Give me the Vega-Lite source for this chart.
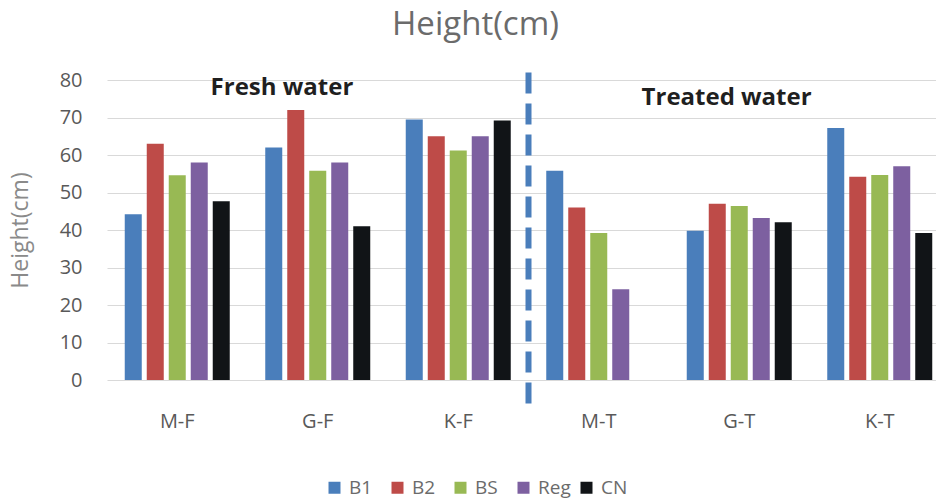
{
  "$schema": "https://vega.github.io/schema/vega-lite/v6.json",
  "width": 829,
  "height": 300,
  "autosize": {"type": "none"},
  "padding": {"left": 107, "top": 80, "right": 0, "bottom": 121},
  "background": "white",
  "config": {
    "font": "Open Sans",
    "view": {"stroke": null},
    "axis": {"labelFont": "Open Sans", "titleFont": "Open Sans"},
    "legend": {"labelFont": "Open Sans"}
  },
  "title": {
    "text": "Height(cm)",
    "fontSize": 33,
    "fontWeight": "normal",
    "color": "#6b6b6b",
    "anchor": "middle",
    "dx": -46,
    "offset": 28
  },
  "layer": [
    {
      "data": {
        "values": [
          {"group": "M-F", "series": "B1", "value": 44.2},
          {"group": "M-F", "series": "B2", "value": 63},
          {"group": "M-F", "series": "BS", "value": 54.6},
          {"group": "M-F", "series": "Reg", "value": 58},
          {"group": "M-F", "series": "CN", "value": 47.7},
          {"group": "G-F", "series": "B1", "value": 62},
          {"group": "G-F", "series": "B2", "value": 72},
          {"group": "G-F", "series": "BS", "value": 55.8},
          {"group": "G-F", "series": "Reg", "value": 58},
          {"group": "G-F", "series": "CN", "value": 41},
          {"group": "K-F", "series": "B1", "value": 69.5},
          {"group": "K-F", "series": "B2", "value": 65},
          {"group": "K-F", "series": "BS", "value": 61.2},
          {"group": "K-F", "series": "Reg", "value": 65},
          {"group": "K-F", "series": "CN", "value": 69.2},
          {"group": "M-T", "series": "B1", "value": 55.8},
          {"group": "M-T", "series": "B2", "value": 46},
          {"group": "M-T", "series": "BS", "value": 39.2},
          {"group": "M-T", "series": "Reg", "value": 24.2},
          {"group": "G-T", "series": "B1", "value": 39.8},
          {"group": "G-T", "series": "B2", "value": 47},
          {"group": "G-T", "series": "BS", "value": 46.4},
          {"group": "G-T", "series": "Reg", "value": 43.2},
          {"group": "G-T", "series": "CN", "value": 42.1},
          {"group": "K-T", "series": "B1", "value": 67.2},
          {"group": "K-T", "series": "B2", "value": 54.2},
          {"group": "K-T", "series": "BS", "value": 54.7},
          {"group": "K-T", "series": "Reg", "value": 57},
          {"group": "K-T", "series": "CN", "value": 39.2}
        ]
      },
      "mark": {"type": "bar"},
      "encoding": {
        "x": {
          "field": "group",
          "type": "nominal",
          "scale": {"domain": ["M-F", "G-F", "K-F", "M-T", "G-T", "K-T"], "paddingInner": 0, "paddingOuter": 0, "range": [0, 843]},
          "axis": {
            "title": null,
            "labelAngle": 0,
            "labelFontSize": 20,
            "labelColor": "#595959",
            "labelPadding": 31,
            "ticks": false,
            "domain": false,
            "grid": false
          }
        },
        "xOffset": {
          "field": "series",
          "type": "nominal",
          "scale": {"domain": ["B1", "B2", "BS", "Reg", "CN"], "paddingInner": 0.227, "paddingOuter": 0.807}
        },
        "y": {
          "field": "value",
          "type": "quantitative",
          "scale": {"domain": [0, 80], "nice": false},
          "axis": {
            "title": "Height(cm)",
            "titleFontSize": 23,
            "titleFontWeight": "normal",
            "titleColor": "#8a8a8a",
            "titlePadding": 27,
            "values": [0, 10, 20, 30, 40, 50, 60, 70, 80],
            "labelOverlap": false,
            "labelFontSize": 20,
            "labelColor": "#595959",
            "labelPadding": 25,
            "ticks": false,
            "domain": false,
            "gridColor": "#d9d9d9",
            "gridWidth": 1
          }
        },
        "color": {
          "field": "series",
          "type": "nominal",
          "scale": {
            "domain": ["B1", "B2", "BS", "Reg", "CN"],
            "range": ["#4a7ebb", "#be4b48", "#98b954", "#7d60a0", "#111417"]
          },
          "legend": {
            "title": null,
            "orient": "none",
            "legendX": 218,
            "legendY": 398,
            "padding": 0,
            "direction": "horizontal",
            "columns": 5,
            "gridAlign": "all",
            "symbolType": "square",
            "symbolSize": 144,
            "symbolStrokeWidth": 0,
            "labelFontSize": 19,
            "labelColor": "#6b6b6b",
            "columnPadding": 6,
            "labelOffset": 5
          }
        }
      }
    },
    {
      "data": {"values": [{"group": "M-T", "top": 82, "bottom": -8.5}]},
      "mark": {"type": "rule", "color": "#4a7ebb", "strokeWidth": 6, "strokeDash": [21, 10]},
      "encoding": {
        "x": {"field": "group", "type": "nominal", "bandPosition": 0},
        "y": {
          "field": "top",
          "type": "quantitative",
          "axis": {
            "title": "Height(cm)",
            "titleFontSize": 23,
            "titleFontWeight": "normal",
            "titleColor": "#8a8a8a",
            "titlePadding": 27,
            "values": [0, 10, 20, 30, 40, 50, 60, 70, 80],
            "labelOverlap": false,
            "labelFontSize": 20,
            "labelColor": "#595959",
            "labelPadding": 25,
            "ticks": false,
            "domain": false,
            "gridColor": "#d9d9d9",
            "gridWidth": 1
          }
        },
        "y2": {"field": "bottom"}
      }
    },
    {
      "data": {"values": [{"group": "G-F", "label": "Fresh water", "value": 78}]},
      "mark": {"type": "text", "fontSize": 24, "fontWeight": "bold", "color": "#1f1f1f", "align": "center", "baseline": "middle"},
      "encoding": {
        "x": {"field": "group", "type": "nominal", "bandPosition": 0.245},
        "y": {
          "field": "value",
          "type": "quantitative",
          "axis": {
            "title": "Height(cm)",
            "titleFontSize": 23,
            "titleFontWeight": "normal",
            "titleColor": "#8a8a8a",
            "titlePadding": 27,
            "values": [0, 10, 20, 30, 40, 50, 60, 70, 80],
            "labelOverlap": false,
            "labelFontSize": 20,
            "labelColor": "#595959",
            "labelPadding": 25,
            "ticks": false,
            "domain": false,
            "gridColor": "#d9d9d9",
            "gridWidth": 1
          }
        },
        "text": {"field": "label"}
      }
    },
    {
      "data": {"values": [{"group": "G-T", "label": "Treated water", "value": 75.3}]},
      "mark": {"type": "text", "fontSize": 24, "fontWeight": "bold", "color": "#1f1f1f", "align": "center", "baseline": "middle"},
      "encoding": {
        "x": {"field": "group", "type": "nominal", "bandPosition": 0.41},
        "y": {
          "field": "value",
          "type": "quantitative",
          "axis": {
            "title": "Height(cm)",
            "titleFontSize": 23,
            "titleFontWeight": "normal",
            "titleColor": "#8a8a8a",
            "titlePadding": 27,
            "values": [0, 10, 20, 30, 40, 50, 60, 70, 80],
            "labelOverlap": false,
            "labelFontSize": 20,
            "labelColor": "#595959",
            "labelPadding": 25,
            "ticks": false,
            "domain": false,
            "gridColor": "#d9d9d9",
            "gridWidth": 1
          }
        },
        "text": {"field": "label"}
      }
    }
  ]
}
